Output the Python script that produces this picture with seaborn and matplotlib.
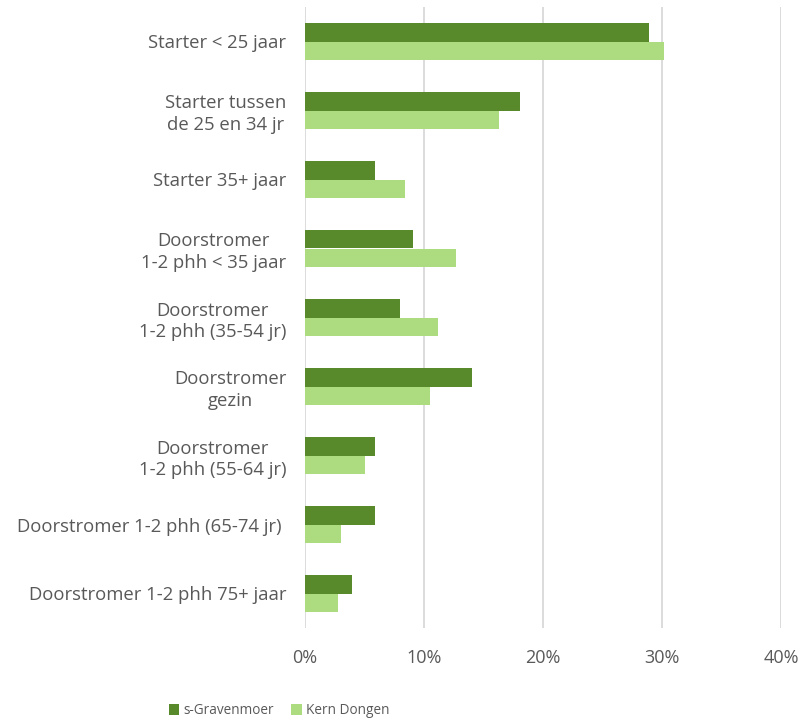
import matplotlib
matplotlib.use("Agg")
import matplotlib.pyplot as plt
import seaborn as sns
import pandas as pd
from matplotlib.ticker import FuncFormatter
from matplotlib.patches import Patch

categories = [
    "Starter < 25 jaar",
    "Starter tussen\nde 25 en 34 jr",
    "Starter 35+ jaar",
    "Doorstromer\n1-2 phh < 35 jaar",
    "Doorstromer\n1-2 phh (35-54 jr)",
    "Doorstromer\ngezin",
    "Doorstromer\n1-2 phh (55-64 jr)",
    "Doorstromer 1-2 phh (65-74 jr) ",
    "Doorstromer 1-2 phh 75+ jaar",
]
series_names = ["s-Gravenmoer", "Kern Dongen"]
gravenmoer = [28.9, 18.1, 5.9, 9.05, 8.0, 14.0, 5.9, 5.9, 3.95]
kern_dongen = [30.2, 16.3, 8.4, 12.7, 11.2, 10.5, 5.0, 3.0, 2.75]
x_ticks = [0, 10, 20, 30, 40]

df = pd.DataFrame({
    "cat": categories * 2,
    "serie": [series_names[0]] * len(categories) + [series_names[1]] * len(categories),
    "val": gravenmoer + kern_dongen,
})

sns.set_theme(style="white")
plt.rcParams["font.family"] = ["Open Sans", "DejaVu Sans"]

fig = plt.figure(figsize=(8.05, 7.22), dpi=100)
ax = fig.add_axes([305 / 805, 1 - 628 / 722, (781 - 305) / 805, (628 - 7) / 722])

colors = ["#588A2B", "#ADDB80"]
sns.barplot(data=df, y="cat", x="val", hue="serie", order=categories,
            hue_order=series_names, palette=colors, orient="h", saturation=1,
            width=0.54, linewidth=0, ax=ax, legend=False, zorder=3)

ax.set_xlim(0, 40)
ax.set_ylim(8.5, -0.5)
ax.set_xticks(x_ticks)
ax.xaxis.set_major_formatter(FuncFormatter(lambda v, p: f"{v:.0f}%"))
ax.grid(axis="x", color="#D9D9D9", linewidth=1.3, zorder=0)
ax.set_axisbelow(True)
for s in ax.spines.values():
    s.set_visible(False)
ax.set_xlabel("")
ax.set_ylabel("")
ax.tick_params(axis="x", length=0, pad=15, labelsize=13, labelcolor="#595959")
ax.tick_params(axis="y", length=0, pad=13.5, labelsize=13.3, labelcolor="#595959")
for lab in ax.get_yticklabels():
    lab.set_multialignment("center")
    lab.set_linespacing(1.25)

handles = [Patch(facecolor=c, edgecolor="none") for c in colors]
fig.legend(handles, series_names, loc="center", bbox_to_anchor=(279 / 805, 1 - 711 / 722),
           ncol=2, frameon=False, fontsize=9.8, handlelength=0.75, handleheight=0.9,
           handletextpad=0.3, columnspacing=1.3, labelcolor="#595959")

fig.savefig("out.png", dpi=100)
